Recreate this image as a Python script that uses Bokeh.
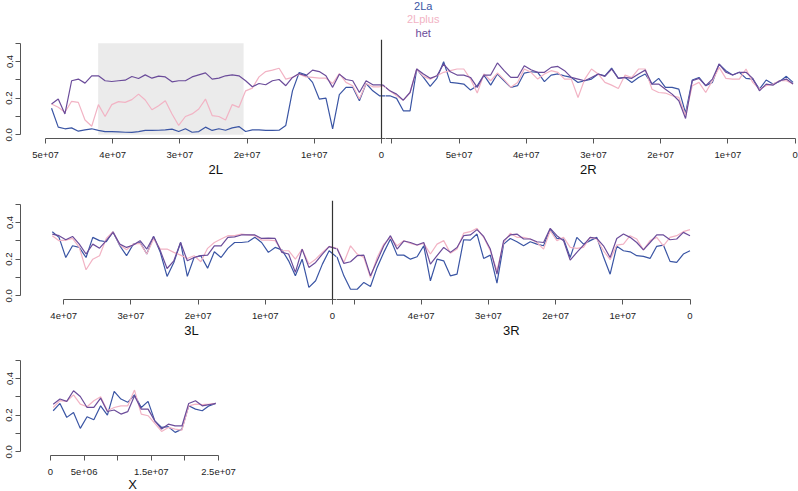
import numpy as np
from bokeh.plotting import figure
from bokeh.models import Range1d, FixedTicker, Span, Title
from bokeh.layouts import column, row
from bokeh.embed import file_html
from bokeh.resources import INLINE

# ---------------- data ----------------
# chromosome-arm lengths (bp) and 2La inversion breakpoints
LEN_2L, LEN_2R = 49364325, 61545105
LEN_3L, LEN_3R = 41963435, 53200684
LEN_X = 24393108
INV_2LA = (20524058, 42165532)

SERIES = ["2La", "2Lplus", "het"]
COLORS = {"2La": "#3a55a4", "2Lplus": "#f2b3c4", "het": "#6b4c9a"}

# window positions (Mb) in plotting order (left -> right)
pos_2L = np.linspace(49.1, 0.3, 50) * 1e6
pos_2R = np.linspace(61.3, 0.3, 62) * 1e6
pos_3L = np.linspace(41.7, 0.5, 42) * 1e6
pos_3R = np.linspace(52.5, 0.0, 54) * 1e6
pos_X = np.linspace(0.4, 24.6, 25) * 1e6

# frequencies, left -> right
f2L_2La = [0.145, 0.042, 0.033, 0.038, 0.02, 0.027, 0.033, 0.024, 0.018, 0.018,
           0.016, 0.014, 0.013, 0.018, 0.024, 0.024, 0.025, 0.027, 0.031, 0.018,
           0.033, 0.014, 0.018, 0.042, 0.024, 0.033, 0.025, 0.038, 0.045, 0.018,
           0.027, 0.027, 0.024, 0.024, 0.025, 0.051, 0.24, 0.34, 0.327, 0.286,
           0.195, 0.2, 0.033, 0.219, 0.259, 0.259, 0.186, 0.28, 0.24, 0.213]
f2L_2Lplus = [0.168, 0.15, 0.123, 0.183, 0.177, 0.081, 0.047, 0.165, 0.1, 0.165,
              0.181, 0.177, 0.192, 0.222, 0.19, 0.137, 0.159, 0.186, 0.114, 0.051,
              0.1, 0.114, 0.141, 0.195, 0.105, 0.1, 0.081, 0.165, 0.15, 0.24,
              0.255, 0.316, 0.345, 0.353, 0.363, 0.304, 0.313, 0.331, 0.316, 0.313,
              0.309, 0.309, 0.28, 0.334, 0.286, 0.268, 0.195, 0.28, 0.262, 0.262]
f2L_het = [0.168, 0.195, 0.114, 0.295, 0.304, 0.282, 0.322, 0.322, 0.295, 0.291,
           0.295, 0.298, 0.318, 0.307, 0.327, 0.309, 0.32, 0.316, 0.289, 0.295,
           0.295, 0.316, 0.327, 0.338, 0.304, 0.309, 0.322, 0.327, 0.322, 0.295,
           0.262, 0.28, 0.273, 0.295, 0.302, 0.268, 0.313, 0.334, 0.322, 0.353,
           0.345, 0.322, 0.259, 0.331, 0.302, 0.295, 0.231, 0.295, 0.273, 0.273]

f2R_2La = [0.213, 0.213, 0.199, 0.131, 0.131, 0.359, 0.313, 0.264, 0.308, 0.399,
           0.286, 0.282, 0.277, 0.244, 0.268, 0.326, 0.271, 0.332, 0.295, 0.259,
           0.268, 0.337, 0.344, 0.341, 0.29, 0.326, 0.332, 0.322, 0.313, 0.286,
           0.295, 0.304, 0.332, 0.322, 0.364, 0.308, 0.313, 0.286, 0.313, 0.332,
           0.277, 0.308, 0.259, 0.259, 0.249, 0.118, 0.299, 0.313, 0.268, 0.286,
           0.386, 0.35, 0.326, 0.341, 0.308, 0.304, 0.249, 0.299, 0.277, 0.291,
           0.319, 0.286]
f2R_2Lplus = [0.268, 0.240, 0.213, 0.189, 0.231, 0.359, 0.319, 0.304, 0.322, 0.341,
              0.35, 0.359, 0.359, 0.304, 0.228, 0.332, 0.295, 0.337, 0.301, 0.259,
              0.286, 0.359, 0.341, 0.304, 0.332, 0.35, 0.341, 0.304, 0.304, 0.204,
              0.304, 0.359, 0.332, 0.286, 0.271, 0.253, 0.326, 0.313, 0.359, 0.359,
              0.249, 0.231, 0.228, 0.213, 0.204, 0.107, 0.268, 0.286, 0.231, 0.295,
              0.368, 0.308, 0.304, 0.304, 0.359, 0.286, 0.249, 0.268, 0.277, 0.295,
              0.295, 0.277]
f2R_het = [0.271, 0.240, 0.222, 0.189, 0.231, 0.359, 0.332, 0.308, 0.322, 0.386,
           0.344, 0.326, 0.326, 0.313, 0.259, 0.326, 0.326, 0.392, 0.35, 0.313,
           0.313, 0.377, 0.355, 0.341, 0.341, 0.368, 0.373, 0.35, 0.313, 0.304,
           0.295, 0.313, 0.332, 0.319, 0.359, 0.308, 0.313, 0.308, 0.332, 0.353,
           0.277, 0.277, 0.249, 0.222, 0.186, 0.089, 0.295, 0.308, 0.268, 0.304,
           0.386, 0.341, 0.326, 0.341, 0.341, 0.308, 0.24, 0.277, 0.271, 0.295,
           0.304, 0.277]

f3L_2La = [0.35, 0.319, 0.209, 0.273, 0.264, 0.209, 0.319, 0.301, 0.295, 0.35,
           0.273, 0.219, 0.282, 0.291, 0.228, 0.324, 0.237, 0.106, 0.182, 0.291,
           0.106, 0.209, 0.219, 0.151, 0.24, 0.209, 0.259, 0.291, 0.291, 0.295,
           0.319, 0.291, 0.237, 0.264, 0.251, 0.191, 0.109, 0.2, 0.046, 0.082,
           0.173, 0.246]
f3L_2Lplus = [0.328, 0.301, 0.304, 0.313, 0.264, 0.142, 0.2, 0.219, 0.313, 0.35,
              0.277, 0.251, 0.282, 0.286, 0.228, 0.31, 0.255, 0.255, 0.237, 0.222,
              0.204, 0.219, 0.186, 0.259, 0.291, 0.31, 0.328, 0.328, 0.337, 0.333,
              0.328, 0.304, 0.304, 0.301, 0.246, 0.246, 0.2, 0.255, 0.173, 0.2,
              0.237, 0.27]
f3L_het = [0.337, 0.328, 0.306, 0.324, 0.282, 0.228, 0.282, 0.26, 0.301, 0.346,
           0.282, 0.264, 0.277, 0.301, 0.255, 0.324, 0.246, 0.149, 0.191, 0.291,
           0.191, 0.209, 0.219, 0.222, 0.273, 0.273, 0.319, 0.322, 0.332, 0.332,
           0.332, 0.313, 0.315, 0.313, 0.237, 0.228, 0.128, 0.255, 0.155, 0.182,
           0.228, 0.268]

f3R_2La = [0.209, 0.109, 0.036, 0.036, 0.073, 0.051, 0.155, 0.237, 0.31, 0.222,
           0.222, 0.2, 0.213, 0.273, 0.082, 0.2, 0.191, 0.109, 0.118, 0.306,
           0.304, 0.337, 0.204, 0.222, 0.069, 0.282, 0.313, 0.295, 0.273, 0.295,
           0.282, 0.273, 0.364, 0.313, 0.31, 0.209, 0.319, 0.282, 0.301, 0.319,
           0.213, 0.118, 0.27, 0.246, 0.24, 0.219, 0.215, 0.204, 0.27, 0.277,
           0.188, 0.182, 0.228, 0.246]
f3R_2Lplus = [0.259, 0.182, 0.273, 0.228, 0.209, 0.1, 0.209, 0.282, 0.319, 0.273,
              0.301, 0.286, 0.277, 0.286, 0.228, 0.282, 0.301, 0.233, 0.255, 0.342,
              0.35, 0.368, 0.319, 0.246, 0.137, 0.291, 0.341, 0.319, 0.319, 0.31,
              0.291, 0.255, 0.355, 0.301, 0.319, 0.264, 0.259, 0.264, 0.319, 0.31,
              0.246, 0.197, 0.277, 0.282, 0.328, 0.31, 0.251, 0.301, 0.319, 0.273,
              0.319, 0.328, 0.35, 0.361]
f3R_het = [0.255, 0.177, 0.186, 0.219, 0.222, 0.109, 0.191, 0.273, 0.328, 0.255,
           0.299, 0.291, 0.277, 0.291, 0.173, 0.219, 0.264, 0.237, 0.264, 0.328,
           0.332, 0.361, 0.324, 0.255, 0.118, 0.301, 0.332, 0.337, 0.31, 0.31,
           0.295, 0.291, 0.368, 0.328, 0.301, 0.195, 0.237, 0.277, 0.319, 0.313,
           0.273, 0.209, 0.313, 0.337, 0.319, 0.291, 0.251, 0.291, 0.332, 0.332,
           0.306, 0.31, 0.346, 0.328]

fX_2La = [0.224, 0.264, 0.188, 0.215, 0.128, 0.191, 0.175, 0.251, 0.2, 0.33,
          0.288, 0.27, 0.311, 0.242, 0.275, 0.169, 0.133, 0.137, 0.106, 0.124,
          0.251, 0.233, 0.224, 0.251, 0.264]
fX_2Lplus = [0.242, 0.279, 0.275, 0.311, 0.26, 0.246, 0.279, 0.301, 0.224, 0.242,
             0.251, 0.251, 0.337, 0.206, 0.197, 0.155, 0.111, 0.133, 0.124, 0.118,
             0.251, 0.26, 0.257, 0.26, 0.264]
fX_het = [0.26, 0.288, 0.275, 0.333, 0.302, 0.242, 0.242, 0.293, 0.22, 0.228,
          0.206, 0.219, 0.306, 0.233, 0.233, 0.169, 0.124, 0.151, 0.142, 0.142,
          0.264, 0.279, 0.251, 0.257, 0.264]

# axis tick positions per arm (bp) and their labels
ticks_2L = [50000000, 40000000, 30000000, 20000000, 10000000, 0]
labels_2L = ["5e+07", "4e+07", "3e+07", "2e+07", "1e+07", "0"]
ticks_2R = [60000000, 50000000, 40000000, 30000000, 20000000, 10000000, 0]
labels_2R = ["", "5e+07", "4e+07", "3e+07", "2e+07", "1e+07", "0"]
ticks_3L = [40000000, 30000000, 20000000, 10000000, 0]
labels_3L = ["4e+07", "3e+07", "2e+07", "1e+07", "0"]
ticks_3R = [50000000, 40000000, 30000000, 20000000, 10000000, 0]
labels_3R = ["", "4e+07", "3e+07", "2e+07", "1e+07", "0"]
ticks_X = [0, 5000000, 10000000, 15000000, 20000000, 25000000]
labels_X = ["0", "5e+06", "", "1.5e+07", "", "2.5e+07"]

y_ticks = [0.0, 0.1, 0.2, 0.3, 0.4, 0.5]
y_labels = ["0.0", "", "0.2", "", "0.4", ""]

# ---------------- layout ----------------
FONT = "Liberation Sans"
AX_COL = "#555555"
TXT_COL = "#222222"
Y0, Y1 = -0.02, 0.52
FRAME_H = 99
BP_PER_PX = 1e7 / 67.2          # common horizontal scale for all panels
CW = {"2": .556, "3": .556, "L": .556, "R": .722, "X": .667, "a": .556,
      "p": .556, "l": .222, "u": .556, "s": .5, "h": .556, "e": .556, "t": .278}


def text_w(s, size):
    return sum(CW.get(c, 0.556) for c in s) * size


def arm_fig(width, height, top, x0, frame_w, xticks, xlabels, xbounds,
            yaxis=True):
    left = 20 if yaxis else 0
    p = figure(width=width, height=height, title=None,
               x_range=Range1d(x0, x0 + frame_w * BP_PER_PX),
               y_range=Range1d(Y0, Y1),
               output_backend="svg", toolbar_location=None,
               min_border_left=left, min_border_right=0,
               min_border_top=top, min_border_bottom=height - top - FRAME_H)
    p.outline_line_color = None
    p.grid.visible = False
    p.background_fill_color = "white"
    p.border_fill_color = "white"
    xa = p.xaxis[0]
    xa.ticker = FixedTicker(ticks=xticks, minor_ticks=[])
    xa.major_label_overrides = {t: l for t, l in zip(xticks, xlabels)}
    xa.bounds = xbounds
    xa.major_label_standoff = 8
    axes = [xa]
    ya = p.yaxis[0]
    if yaxis:
        ya.ticker = FixedTicker(ticks=y_ticks, minor_ticks=[])
        ya.major_label_overrides = {t: l for t, l in zip(y_ticks, y_labels)}
        ya.bounds = (0, 0.5)
        ya.major_label_orientation = "vertical"
        ya.major_label_standoff = 3
        axes.append(ya)
    else:
        ya.visible = False
    for ax in axes:
        ax.axis_line_color = AX_COL
        ax.axis_line_width = 1
        ax.major_tick_line_color = AX_COL
        ax.major_tick_out = 5
        ax.major_tick_in = 0
        ax.minor_tick_line_color = None
        ax.major_label_text_font = FONT
        ax.major_label_text_font_size = "9.5px"
        ax.major_label_text_color = TXT_COL
    return p


def arm_title(p, x0, center_u, text, standoff=1, size=13):
    off = (center_u - x0) / BP_PER_PX - text_w(text, size) / 2
    p.add_layout(Title(text=text, align="left", offset=off,
                       vertical_align="middle", standoff=standoff,
                       text_font=FONT, text_font_size=f"{size}px",
                       text_font_style="normal", text_color="#111111"),
                 "below")


def draw_lines(p, u, vals):
    for s in SERIES:
        p.line(u, vals[s], line_color=COLORS[s], line_width=1.2)


# ---- row 1: 2L | 2R ----
TOP1, H1 = 39, 179
x0_2L = -361 * BP_PER_PX                    # centromere 361 px into the frame
fw_2L = 365
x0_2R = x0_2L + fw_2L * BP_PER_PX
fw_2R = 413
u1 = np.concatenate([-pos_2L, LEN_2R - pos_2R])
row1 = {"2La": f2L_2La + f2R_2La, "2Lplus": f2L_2Lplus + f2R_2Lplus,
        "het": f2L_het + f2R_het}

p2L = arm_fig(fw_2L + 20, H1, TOP1, x0_2L, fw_2L,
              [-t for t in ticks_2L], labels_2L,
              (-50000000, x0_2R))
p2L.quad(left=-INV_2LA[1], right=-INV_2LA[0], bottom=0, top=0.5,
         fill_color="#ebebeb", line_color=None)
draw_lines(p2L, u1, row1)
p2L.add_layout(Span(location=0, dimension="height", line_color="#333333",
                    line_width=1.2))
arm_title(p2L, x0_2L, -LEN_2L / 2, "2L")

p2R = arm_fig(fw_2R, H1, TOP1, x0_2R, fw_2R,
              [LEN_2R - t for t in ticks_2R], labels_2R,
              (x0_2R, LEN_2R), yaxis=False)
draw_lines(p2R, u1, row1)
arm_title(p2R, x0_2R, LEN_2R / 2, "2R")
LEG_X = 422.7 - 385                         # legend centre, px from 2R frame left
for s, so in [("het", -1), ("2Lplus", 1), ("2La", -3)]:
    p2R.add_layout(Title(text=s, align="left",
                         offset=LEG_X - text_w(s, 11) / 2,
                         vertical_align="middle", standoff=so,
                         text_font=FONT, text_font_size="11px",
                         text_font_style="normal", text_color=COLORS[s]),
                   "above")

# ---- row 2: 3L | 3R ----
TOP2, H2 = 21, 161
x0_3L = -312 * BP_PER_PX
fw_3L = 316
x0_3R = x0_3L + fw_3L * BP_PER_PX
fw_3R = 462
u2 = np.concatenate([-pos_3L, LEN_3R - pos_3R])
row2 = {"2La": f3L_2La + f3R_2La, "2Lplus": f3L_2Lplus + f3R_2Lplus,
        "het": f3L_het + f3R_het}

p3L = arm_fig(fw_3L + 20, H2, TOP2, x0_3L, fw_3L,
              [-t for t in ticks_3L], labels_3L, (-40000000, x0_3R))
draw_lines(p3L, u2, row2)
p3L.add_layout(Span(location=0, dimension="height", line_color="#333333",
                    line_width=1.2))
arm_title(p3L, x0_3L, -LEN_3L / 2, "3L")

p3R = arm_fig(fw_3R, H2, TOP2, x0_3R, fw_3R,
              [LEN_3R - t for t in ticks_3R], labels_3R,
              (x0_3R, LEN_3R), yaxis=False)
draw_lines(p3R, u2, row2)
arm_title(p3R, x0_3R, LEN_3R / 2, "3R")

# ---- row 3: X ----
TOP3, H3 = 16, 151
x0_X = -30 * BP_PER_PX
fw_X = 240
pX = arm_fig(fw_X + 20, H3, TOP3, x0_X, fw_X, ticks_X, labels_X,
             (0, 25000000))
draw_lines(pX, pos_X, {"2La": fX_2La, "2Lplus": fX_2Lplus, "het": fX_het})
arm_title(pX, x0_X, LEN_X / 2, "X", standoff=-4)

layout = column(row(p2L, p2R, spacing=0), row(p3L, p3R, spacing=0), pX,
                spacing=0)
open("out.html", "w").write(file_html(layout, INLINE))
